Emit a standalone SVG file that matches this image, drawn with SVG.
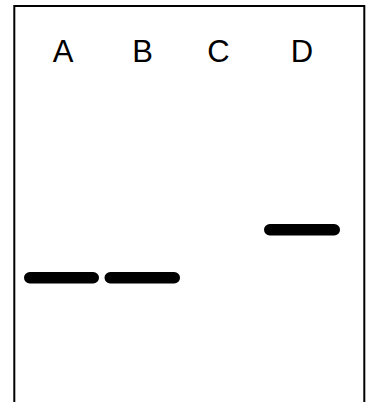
<svg xmlns="http://www.w3.org/2000/svg" width="368" height="402" viewBox="0 0 368 402">
<style>
.lbl{font-family:"Liberation Sans",Arial,sans-serif;font-size:31px;fill:#000;text-anchor:middle}
.band{fill:#000}
</style>
<rect width="368" height="402" fill="#fff"/>
<g id="gel">
<path d="M14.3 402 V6 H364.3 V402" fill="none" stroke="#000" stroke-width="2"/>
</g>
<g id="laneA"><text class="lbl" x="63" y="62">A</text><rect class="band" x="24" y="272" width="75" height="11.5" rx="5.75"/></g>
<g id="laneB"><text class="lbl" x="142.5" y="62">B</text><rect class="band" x="104.5" y="272" width="75.5" height="11.5" rx="5.75"/></g>
<g id="laneC"><text class="lbl" x="218.5" y="62">C</text></g>
<g id="laneD"><text class="lbl" x="302" y="62">D</text><rect class="band" x="264" y="224" width="76" height="11.5" rx="5.75"/></g>
</svg>
